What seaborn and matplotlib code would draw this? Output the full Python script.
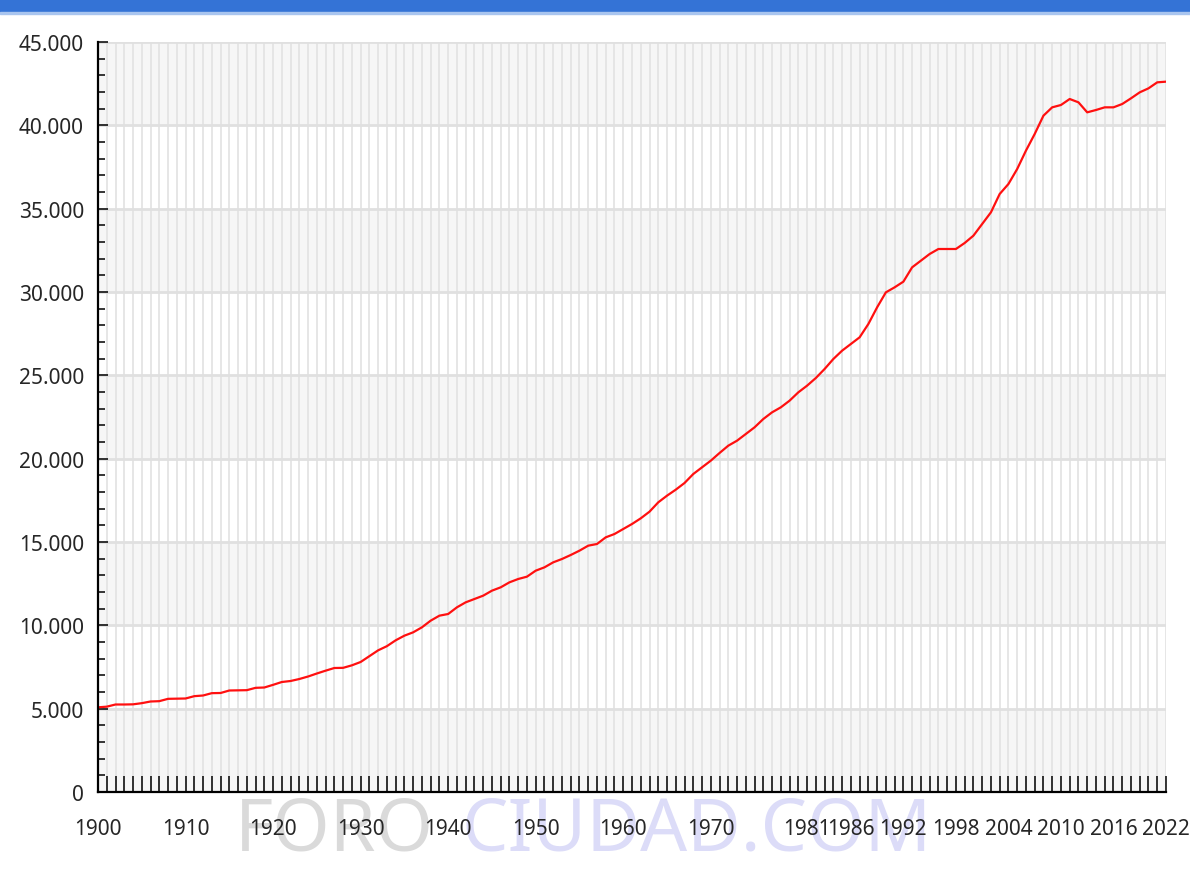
import matplotlib
matplotlib.use("Agg")
import matplotlib.pyplot as plt
import seaborn as sns
import pandas as pd
from matplotlib.patches import Rectangle
from matplotlib.ticker import MultipleLocator, FuncFormatter

# data (population per year)
years = list(range(1900, 2023))
population = [
    5080, 5120, 5250, 5250, 5260, 5330, 5430, 5450, 5590, 5600,
    5610, 5750, 5790, 5930, 5940, 6090, 6100, 6110, 6250, 6270,
    6430, 6600, 6660, 6780, 6930, 7110, 7280, 7440, 7450, 7600,
    7800, 8150, 8500, 8750, 9100, 9380, 9580, 9880, 10280, 10580,
    10680, 11080, 11380, 11580, 11780, 12080, 12280, 12580, 12780, 12920,
    13280, 13480, 13780, 13980, 14220, 14480, 14780, 14880, 15280, 15480,
    15780, 16080, 16420, 16820, 17380, 17780, 18140, 18540, 19080, 19480,
    19880, 20340, 20780, 21080, 21480, 21880, 22380, 22780, 23080, 23480,
    23980, 24380, 24840, 25380, 25980, 26480, 26880, 27280, 28080, 29080,
    29980, 30280, 30620, 31480, 31880, 32280, 32580, 32580, 32580, 32940,
    33380, 34080, 34780, 35880, 36480, 37380, 38480, 39480, 40580, 41080,
    41220, 41580, 41380, 40780, 40920, 41080, 41080, 41280, 41620, 41980,
    42220, 42580, 42620,
]
labelled_years = [1900, 1910, 1920, 1930, 1940, 1950, 1960, 1970,
                  1981, 1986, 1992, 1998, 2004, 2010, 2016, 2022]

df = pd.DataFrame({"Year": years, "Population": population})

sns.set_style("white")
plt.rcParams["font.family"] = ["Noto Sans", "DejaVu Sans"]

fig = plt.figure(figsize=(11.9, 8.7), dpi=100)
ax = fig.add_axes([98 / 1190, 77 / 870, 1068 / 1190, 750 / 870])
ax.set_axisbelow(False)

# alternating bands
for lo in range(0, 45000, 10000):
    ax.axhspan(lo, lo + 5000, color="#f6f6f6", zorder=0, lw=0)

# grid
for yr in years:
    ax.axvline(yr, color="#e4e4e4", lw=1.3, zorder=1)
for v in range(5000, 45001, 5000):
    ax.axhline(v, color="#e0e0e0", lw=2, zorder=1)

sns.lineplot(data=df, x="Year", y="Population", color="#ff1010", lw=1.6,
             ax=ax, zorder=3)

ax.set_xlim(1900, 2022)
ax.set_ylim(0, 45000)
ax.set_xlabel("")
ax.set_ylabel("")

for s in ["top", "right"]:
    ax.spines[s].set_visible(False)
for s in ["left", "bottom"]:
    ax.spines[s].set_color("black")
    ax.spines[s].set_linewidth(1.6)
    ax.spines[s].set_zorder(4)

ax.set_xticks(years)
ax.set_xticklabels([str(y) if y in labelled_years else "" for y in years])
ax.yaxis.set_major_locator(MultipleLocator(5000))
ax.yaxis.set_minor_locator(MultipleLocator(1000))
ax.yaxis.set_major_formatter(FuncFormatter(lambda v, p: f"{int(v):,}".replace(",", ".")))

ax.tick_params(axis="x", direction="in", length=11.5, width=1.1, color="black",
               pad=19, labelsize=15, bottom=True)
ax.tick_params(axis="y", which="major", direction="in", length=7, width=1.1,
               color="black", pad=10, labelsize=15, left=True)
ax.tick_params(axis="y", which="minor", direction="in", length=5, width=1.1,
               color="black", left=True)

# blue banner at the top
fig.patches.append(Rectangle((0, 1 - 13 / 870), 1, 13 / 870, transform=fig.transFigure,
                             color="#3473d6", zorder=5))
fig.patches.append(Rectangle((0, 1 - 15 / 870), 1, 2 / 870, transform=fig.transFigure,
                             color="#a9c5ef", zorder=5))

# watermark
fig.text(235 / 1190, 75 / 870, "FORO", color="#dadada", fontsize=53, va="top",
         ha="left", zorder=-1, fontweight="light")
fig.text(462 / 1190, 75 / 870, "CIUDAD.COM", color="#dcdcf8", fontsize=53, va="top",
         ha="left", zorder=-1, fontweight="light")

fig.savefig("out.png", dpi=100)
